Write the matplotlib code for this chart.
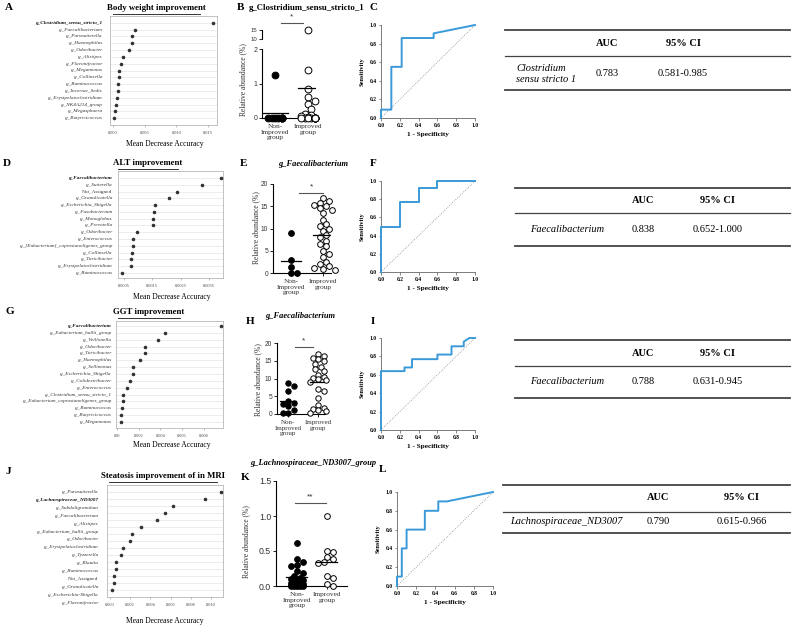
import numpy as np
import matplotlib
matplotlib.use('Agg')
import matplotlib.pyplot as plt
from matplotlib.lines import Line2D
import matplotlib.transforms as mtrans

plt.rcParams['font.family'] = 'Liberation Serif'
SANS = 'Liberation Sans'

# ---------------- data ----------------
A_labels = ['g_Clostridium_sensu_stricto_1', 'g_Faecalibacterium', 'g_Parasutterella', 'g_Haemophilus',
            'g_Odoribacter', 'g_Alistipes', 'g_Flavonifractor', 'g_Megamonas', 'g_Collinsella',
            'g_Ruminococcus', 'g_Incertae_Sedis', 'g_Erysipelatoclostridium', 'g_NK4A214_group',
            'g_Megasphaera', 'g_Butyricicoccus']
A_vals = [0.0158, 0.00347, 0.00305, 0.00295, 0.00253, 0.00153, 0.00126, 0.00100, 0.00099,
          0.00080, 0.00079, 0.00068, 0.00043, 0.00027, 0.00020]
A_ticks = [0.000, 0.005, 0.010, 0.015]
A_ticklabels = ['0.000', '0.005', '0.010', '0.015']

D_labels = ['g_Faecalibacterium', 'g_Sutterella', 'Not_Assigned', 'g_Granulicatella',
            'g_Escherichia_Shigella', 'g_Fusobacterium', 'g_Monoglobus', 'g_Prevotella',
            'g_Odoribacter', 'g_Enterococcus', 'g_[Eubacterium]_coprostanoligenes_group',
            'g_Collinsella', 'g_Turicibacter', 'g_Erysipelatoclostridium', 'g_Ruminococcus']
D_vals = [0.00392, 0.00325, 0.00237, 0.00209, 0.00159, 0.00157, 0.00152, 0.00151,
          0.00096, 0.00082, 0.00082, 0.00080, 0.00075, 0.00074, 0.00043]
D_ticks = [0.0005, 0.0015, 0.0025, 0.0035]
D_ticklabels = ['0.0005', '0.0015', '0.0025', '0.0035']

G_labels = ['g_Faecalibacterium', 'g_Eubacterium_hallii_group', 'g_Veillonella', 'g_Odoribacter',
            'g_Turicibacter', 'g_Haemophilus', 'g_Sellimonas', 'g_Escherichia_Shigella',
            'g_Colidextribacter', 'g_Enterococcus', 'g_Clostridium_sensu_stricto_1',
            'g_Eubacterium_coprostanoligenes_group', 'g_Ruminococcus', 'g_Butyricicoccus', 'g_Megamonas']
G_vals = [0.0096, 0.00446, 0.00375, 0.00260, 0.00259, 0.00208, 0.00146, 0.00144,
          0.00122, 0.00091, 0.00054, 0.00053, 0.00050, 0.00039, 0.00035]
G_ticks = [0.000, 0.002, 0.004, 0.006, 0.008]
G_ticklabels = ['000', '0.002', '0.004', '0.006', '0.008']

J_labels = ['g_Parasutterella', 'g_Lachnospiraceae_ND3007', 'g_Subdoligranulum', 'g_Faecalibacterium',
            'g_Alistipes', 'g_Eubacterium_hallii_group', 'g_Odoribacter', 'g_Erysipelatoclostridium',
            'g_Tyzzerella', 'g_Blautia', 'g_Ruminococcus', 'Not_Assigned', 'g_Granulicatella',
            'g_Escherichia-Shigella', 'g_Flavonifractor']
J_vals = [0.01096, 0.0094, 0.00627, 0.00548, 0.00468, 0.0031, 0.00221, 0.00201,
          0.00132, 0.00109, 0.00059, 0.00056, 0.00043, 0.00040, 0.00017]
J_ticks = [0.000, 0.002, 0.004, 0.006, 0.008, 0.010]
J_ticklabels = ['0.000', '0.002', '0.004', '0.006', '0.008', '0.010']

groups = ['Non-\nImproved\ngroup', 'Improved\ngroup']
B_non = [1.25, 0, 0, 0, 0, 0, 0, 0, 0]
B_imp = [15, 1.4, 0.85, 0.6, 0.5, 0.4, 0.25, 0.12, 0.08, 0.05, 0.03, 0, 0, 0, 0, 0, 0, 0, 0, 0, 0, 0]
E_non = [9.1, 2.86, 1.35, 0.1, 0.1]
E_imp = [16.8, 16.2, 15.8, 15.3, 15.0, 14.5, 14.2, 13.5, 12.0, 11.0, 10.5, 10.0, 9.5, 8.5,
         8.0, 7.2, 6.5, 6.0, 5.0, 4.3, 3.5, 2.5, 2.0, 1.5, 1.2, 0.9, 0.6]
H_non = [8.7, 7.9, 6.4, 3.8, 3.0, 2.8, 2.2, 1.2, 0.3, 0.2]
H_imp = [16.8, 16.2, 15.8, 15.5, 14.8, 14.2, 13.2, 12.8, 12.0, 11.0, 10.5, 10.2, 9.8, 9.5,
         9.0, 7.0, 6.5, 4.5, 2.5, 1.8, 1.5, 1.2, 0.8, 0.2]
K_non = [0.62, 0.38, 0.35, 0.30, 0.28, 0.22, 0.18, 0.15, 0.12, 0.10, 0.08, 0.07, 0.05, 0.05,
         0.04, 0.03, 0.02, 0.02, 0.01, 0.01, 0, 0, 0, 0, 0]
K_imp = [1.0, 0.5, 0.48, 0.42, 0.38, 0.35, 0.33, 0.15, 0.12, 0.03, 0.0]

roc_c_fpr = [0, 0, 0.11, 0.11, 0.22, 0.22, 0.56, 0.56, 1.0]
roc_c_tpr = [0, 0.09, 0.09, 0.55, 0.55, 0.86, 0.86, 0.91, 1.0]
roc_f_fpr = [0, 0, 0.2, 0.2, 0.4, 0.4, 0.6, 0.6, 1.0]
roc_f_tpr = [0, 0.5, 0.5, 0.77, 0.77, 0.92, 0.92, 1.0, 1.0]
roc_i_fpr = [0, 0, 0.25, 0.25, 0.33, 0.33, 0.6, 0.6, 0.75, 0.75, 0.88, 0.88, 0.94, 1.0]
roc_i_tpr = [0, 0.64, 0.64, 0.68, 0.68, 0.77, 0.77, 0.82, 0.82, 0.91, 0.91, 0.96, 1.0, 1.0]
roc_l_fpr = [0, 0, 0.05, 0.05, 0.1, 0.1, 0.29, 0.29, 0.43, 0.43, 0.52, 1.0]
roc_l_tpr = [0, 0.1, 0.1, 0.4, 0.4, 0.6, 0.6, 0.8, 0.8, 0.9, 0.9, 1.0]

tab_names = ['Clostridium\nsensu stricto 1', 'Faecalibacterium', 'Faecalibacterium', 'Lachnospiraceae_ND3007']
tab_auc = ['0.783', '0.838', '0.788', '0.790']
tab_ci = ['0.581-0.985', '0.652-1.000', '0.631-0.945', '0.615-0.966']

# ---------------- helpers ----------------
W, H = 794, 635
fig = plt.figure(figsize=(W / 100, H / 100), dpi=100)


def box(l, t, r, b):
    return fig.add_axes([l / W, 1 - b / H, (r - l) / W, (b - t) / H])


def ftext(x, y, s, **kw):
    kw.setdefault('ha', 'center')
    kw.setdefault('va', 'center')
    fig.text(x / W, 1 - y / H, s, **kw)


def fline(x0, x1, y, **kw):
    fig.add_artist(Line2D([x0 / W, x1 / W], [1 - y / H, 1 - y / H], transform=fig.transFigure, **kw))


def importance(rect, labels, vals, bold, ticks, ticklabels, xlim, ylim, pad, step=1.0):
    ax = box(*rect)
    y = np.arange(len(vals))
    ax.scatter(vals, y, s=2.5, color='#333333', zorder=3)
    ax.set_xlim(xlim)
    ax.set_ylim(ylim)
    ax.set_yticks(y)
    ax.set_yticklabels([])
    ax.tick_params(axis='y', length=0)
    ax.grid(axis='y', color='#e6e6e6', lw=0.5)
    ax.set_xticks(ticks)
    ax.set_xticklabels(ticklabels, fontsize=3.2, color='#444444')
    ax.tick_params(axis='x', length=1.5, width=0.4, pad=3, color='#888888')
    for s in ax.spines.values():
        s.set_color('#aaaaaa')
        s.set_linewidth(0.5)
    tr = mtrans.blended_transform_factory(ax.transAxes, ax.transData)
    xw = rect[2] - rect[0]
    for i, lab in enumerate(labels):
        st = 'normal' if lab in ('Not_Assigned', 'NK4A214_group') else 'italic'
        ax.text(-pad / xw, i * step, lab, transform=tr, ha='right', va='center', fontsize=3.8,
                style=st, fontweight='bold' if i == bold else 'normal',
                color='#111111' if i == bold else '#333333')
    return ax


def swarm(ax, xc, vals, d, maxoff):
    # simple beeswarm in pixel space, capped width (overlap allowed beyond the cap)
    tr = ax.transData
    x0 = tr.transform((xc, 0))[0]
    placed, xs = [], []
    offs = [0.0]
    k = 1
    while k * d * 0.55 <= maxoff:
        offs += [k * d * 0.55, -k * d * 0.55]
        k += 1
    for v in vals:
        yy = tr.transform((xc, v))[1]
        best, bestd = offs[0], -1
        for off in offs:
            md = min([np.hypot(px - x0 - off, py - yy) for px, py in placed] + [1e9])
            if md >= 0.95 * d:
                best = off
                break
            if md > bestd:
                best, bestd = off, md
        placed.append((x0 + best, yy))
        xs.append(tr.inverted().transform((x0 + best, yy))[0])
    return xs


def dots(ax, vals, xc, filled, d, s, maxoff, mean=True, hw=0.3):
    xs = swarm(ax, xc, vals, d, maxoff)
    ax.scatter(xs, vals, s=s, facecolor='black' if filled else 'white', edgecolor='black',
               linewidth=0.7, clip_on=False, zorder=3)
    if mean:
        m = np.mean(vals)
        ax.plot([xc - hw, xc + hw], [m, m], color='black', lw=0.9, zorder=4)


def dot_axes(ax, yticks, yticklabels, ysize=5, xsize=5.3):
    for s in ['top', 'right']:
        ax.spines[s].set_visible(False)
    for s in ['left', 'bottom']:
        ax.spines[s].set_linewidth(0.8)
    ax.set_yticks(yticks)
    ax.set_yticklabels(yticklabels, fontsize=ysize, family=SANS, color='#333333')
    ax.tick_params(axis='y', length=2.5, width=0.6, pad=1)
    ax.set_xticks([0, 1])
    ax.set_xticklabels(groups, fontsize=xsize, linespacing=1.1, color='#333333')
    ax.tick_params(axis='x', length=2.5, width=0.6, pad=2)


def roc(rect, fpr, tpr):
    ax = box(*rect)
    ax.plot([0, 1], [0, 1], ls=':', color='#888888', lw=0.6)
    ax.plot(fpr, tpr, color='#3a9ad9', lw=1.4, clip_on=False, zorder=3)
    ax.set_xlim(0, 1)
    ax.set_ylim(0, 1)
    t = [0, 0.2, 0.4, 0.6, 0.8, 1.0]
    tl = ['0.0', '0.2', '0.4', '0.6', '0.8', '1.0']
    ax.set_xticks(t)
    ax.set_xticklabels(tl, fontsize=4, fontweight='bold')
    ax.set_yticks(t)
    ax.set_yticklabels(tl, fontsize=4, fontweight='bold')
    ax.tick_params(length=1.8, width=0.5, pad=1.5, color='#555555')
    for s in ['top', 'right']:
        ax.spines[s].set_visible(False)
    for s in ['left', 'bottom']:
        ax.spines[s].set_color('#666666')
        ax.spines[s].set_linewidth(0.6)
    ax.set_xlabel('1 - Specificity', fontsize=5.2, fontweight='bold', labelpad=3)
    ax.set_ylabel('Sensitivity', fontsize=4.6, fontweight='bold', labelpad=3)
    return ax


def table(i, x0, x1, xname, xauc, xci, ytop, yhead, yhl, yrow, ybot):
    fline(x0, x1, ytop, color='#444444', lw=1.3)
    fline(x0, x1, yhl, color='#444444', lw=0.9)
    fline(x0, x1, ybot, color='#444444', lw=1.3)
    ftext(xauc, yhead, 'AUC', fontsize=7.5, fontweight='bold')
    ftext(xci, yhead, '95% CI', fontsize=7.5, fontweight='bold')
    ftext(xname, yrow, tab_names[i], fontsize=7.5, style='italic', ha='left', linespacing=1.25)
    ftext(xauc, yrow, tab_auc[i], fontsize=7.5)
    ftext(xci, yrow, tab_ci[i], fontsize=7.5)


def title_ul(x0, x1, y, s):
    ftext((x0 + x1) / 2, y, s, fontsize=6.3, fontweight='bold')
    fline(x0, x1, y + 6, color='#333333', lw=0.7)


# ---------------- importance panels ----------------
importance((110, 16, 217, 125), A_labels, A_vals, 0, A_ticks, A_ticklabels, (-0.00047, 0.01642), (15, -1), 8)
importance((118, 171, 223, 278), D_labels, D_vals, 0, D_ticks, D_ticklabels, (0.00029, 0.00399), (14.74, -1.03), 6)
importance((116, 321, 223, 428), G_labels, G_vals, 0, G_ticks, G_ticklabels, (-0.0001, 0.0098), (14.87, -0.73), 5)
importance((107, 485, 223, 597), J_labels, J_vals, 1, J_ticks, J_ticklabels, (-0.0003, 0.01119), (15, -1), 9, step=1.13)

title_ul(113, 200, 8, 'Body weight improvement')
title_ul(118, 178, 163, 'ALT improvement')
title_ul(118, 180, 312, 'GGT improvement')
title_ul(109, 217, 476, 'Steatosis improvement of in MRI')
for y, xc in [(144, 165), (297, 172), (445, 172), (621, 165)]:
    ftext(xc, y, 'Mean Decrease Accuracy', fontsize=5.5)

# ---------------- B (broken axis) ----------------
axb = box(262, 49, 316, 118)
axb.set_xlim(-0.394, 1.242)
axb.set_ylim(0, 2)
dot_axes(axb, [0, 1, 2], ['0', '1', '2'])
axbu = box(262, 30, 316, 39)
axbu.set_xlim(-0.394, 1.242)
axbu.set_ylim(10, 15)
for s in ['top', 'right', 'bottom']:
    axbu.spines[s].set_visible(False)
axbu.spines['left'].set_linewidth(0.8)
axbu.set_xticks([])
axbu.set_yticks([10, 15])
axbu.set_yticklabels(['10', '15'], fontsize=4.3, family=SANS, color='#333333')
axbu.tick_params(axis='y', length=2.5, width=0.6, pad=1)
axbu.patch.set_alpha(0)
dots(axb, B_non, 0, True, 6.0, 24, 9, mean=False)
dots(axb, [v for v in B_imp if v <= 2], 1, False, 6.0, 24, 9, mean=False)
dots(axbu, [v for v in B_imp if v > 2], 1, False, 6.0, 24, 9, mean=False)
axb.plot([-0.38, 0.38], [np.mean(B_non)] * 2, color='black', lw=0.9, zorder=4)
axb.plot([0.7, 1.3], [np.mean(B_imp)] * 2, color='black', lw=0.9, zorder=4)

# ---------------- E, H, K ----------------
axe = box(273, 184, 331, 273)
axe.set_xlim(-0.56, 1.25)
axe.set_ylim(0, 20)
dot_axes(axe, [0, 5, 10, 15, 20], ['0', '5', '10', '15', '20'], ysize=4.8)
dots(axe, E_non, 0, True, 5.5, 17, 10)
dots(axe, E_imp, 1, False, 5.5, 17, 13)

axh = box(277, 343, 325, 414)
axh.set_xlim(-0.367, 1.233)
axh.set_ylim(0, 20)
dot_axes(axh, [0, 5, 10, 15, 20], ['0', '5', '10', '15', '20'], ysize=4.8, xsize=5.0)
dots(axh, H_non, 0, True, 5.0, 15, 9, hw=0.28)
dots(axh, H_imp, 1, False, 5.0, 15, 10, hw=0.28)

axk = box(276, 481, 347, 586)
axk.set_xlim(-0.7, 1.667)
axk.set_ylim(0, 1.5)
dot_axes(axk, [0, 0.5, 1.0, 1.5], ['0.0', '0.5', '1.0', '1.5'], ysize=6.3)
dots(axk, K_non, 0, True, 5.5, 17, 9, hw=0.35)
dots(axk, K_imp, 1, False, 5.5, 17, 10, hw=0.35)

for x, yc in [(243, 80), (256, 228), (258, 380), (246, 542)]:
    ftext(x, yc, 'Relative abundance (%)', fontsize=5.5, rotation=90, color='#333333')

# significance bars
for x0, x1, y, s in [(281, 303, 23, '*'), (299, 323, 193, '*'), (295, 313, 347, '*'), (295, 326, 503, '**')]:
    fline(x0, x1, y, color='#555555', lw=0.8)
    ftext((x0 + x1) / 2, y - 6, s, fontsize=6, family=SANS, color='#333333')

ftext(249, 8, 'g_Clostridium_sensu_stricto_1', fontsize=6.3, fontweight='bold', ha='left')
ftext(313, 164, 'g_Faecalibacterium', fontsize=6, fontweight='bold', style='italic')
ftext(300, 316, 'g_Faecalibacterium', fontsize=6, fontweight='bold', style='italic')
ftext(313, 463, 'g_Lachnospiraceae_ND3007_group', fontsize=6, fontweight='bold', style='italic')

# ---------------- ROC ----------------
roc((381, 25, 475, 118), roc_c_fpr, roc_c_tpr)
roc((381, 181, 475, 272), roc_f_fpr, roc_f_tpr)
roc((381, 338, 475, 430), roc_i_fpr, roc_i_tpr)
roc((397, 492, 493, 586), roc_l_fpr, roc_l_tpr)

# ---------------- tables ----------------
table(0, 505, 790, 516, 607, 683, 30, 43, 56, 74, 90)
table(1, 515, 790, 530, 643, 718, 188, 201, 213, 230, 246)
table(2, 515, 790, 530, 643, 718, 340, 353, 366, 382, 398)
table(3, 503, 790, 510, 658, 742, 485, 498, 512, 522, 533)

# ---------------- panel letters ----------------
for s, x, y in [('A', 9, 7), ('B', 240, 8), ('C', 373, 7), ('D', 7, 164), ('E', 244, 164), ('F', 373, 163),
                ('G', 10, 311), ('H', 250, 321), ('I', 373, 322), ('J', 8, 471), ('K', 245, 477), ('L', 383, 470)]:
    ftext(x, y, s, fontsize=8, fontweight='bold')

fig.savefig('out.png', dpi=100)
